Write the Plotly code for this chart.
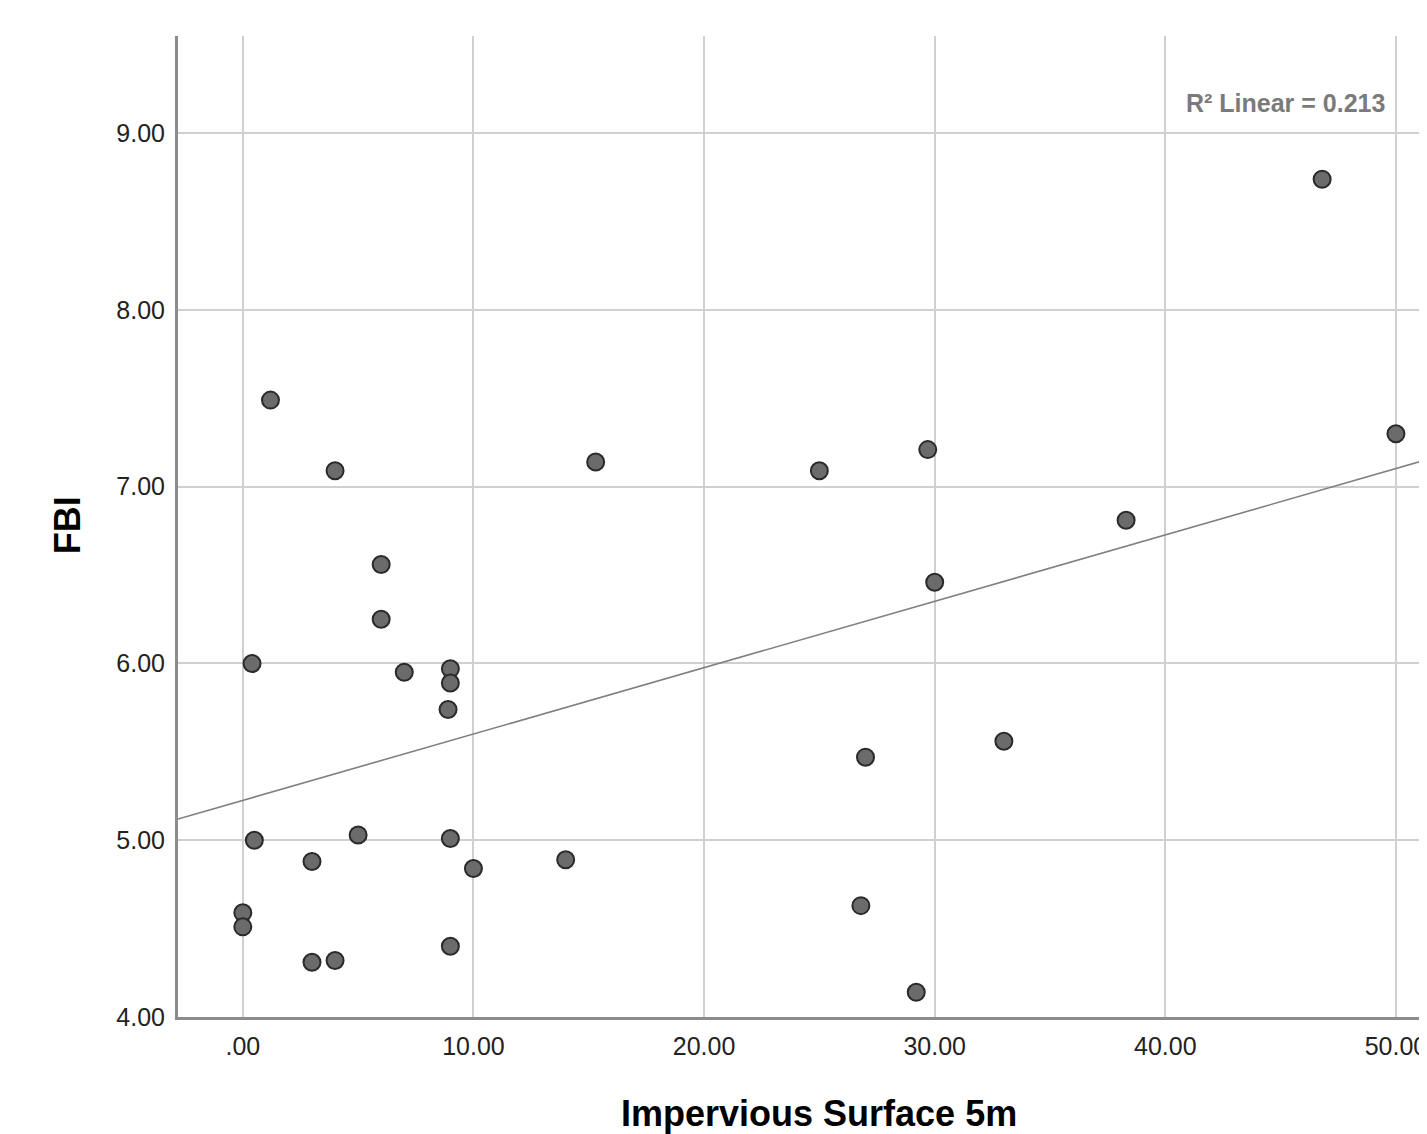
import numpy as np
import plotly.graph_objects as go

# Data
impervious_5m = [1.2, 4.0, 15.3, 25.0, 29.7, 50.0, 46.8, 38.3, 30.0, 6.0,
                 6.0, 0.4, 7.0, 9.0, 9.0, 8.9, 27.0, 33.0, 0.5, 5.0,
                 9.0, 3.0, 10.0, 14.0, 0.0, 0.0, 3.0, 4.0, 9.0, 26.8, 29.2]
fbi = [7.49, 7.09, 7.14, 7.09, 7.21, 7.30, 8.74, 6.81, 6.46, 6.56,
       6.25, 6.00, 5.95, 5.97, 5.89, 5.74, 5.47, 5.56, 5.00, 5.03,
       5.01, 4.88, 4.84, 4.89, 4.59, 4.51, 4.31, 4.32, 4.40, 4.63, 4.14]

x_ticks = [0, 10, 20, 30, 40, 50]
x_tick_labels = [".00", "10.00", "20.00", "30.00", "40.00", "50.00"]
y_ticks = [4, 5, 6, 7, 8, 9]
y_tick_labels = ["4.00", "5.00", "6.00", "7.00", "8.00", "9.00"]
r2_label = "R² Linear = 0.213"

x_range = [-2.81, 51.26]
y_range = [4.0, 9.55]

# Linear fit from the data
slope, intercept = np.polyfit(impervious_5m, fbi, 1)
fit_x = np.array(x_range)
fit_y = intercept + slope * fit_x

FONT = "Liberation Sans, Arial, sans-serif"

fig = go.Figure()
fig.add_trace(go.Scatter(
    x=fit_x, y=fit_y, mode="lines",
    line=dict(color="#808080", width=1.6),
    hoverinfo="skip", showlegend=False, cliponaxis=True,
))
fig.add_trace(go.Scatter(
    x=impervious_5m, y=fbi, mode="markers",
    marker=dict(size=17, color="#6b6b6b", line=dict(color="#2a2a2a", width=2)),
    showlegend=False, cliponaxis=False,
))

fig.update_layout(
    width=1419, height=1126,
    margin=dict(l=170, r=0, t=28, b=117),
    paper_bgcolor="white", plot_bgcolor="white",
    font=dict(family=FONT, color="#222222"),
    xaxis=dict(
        range=x_range, tickvals=x_ticks, ticktext=x_tick_labels,
        showgrid=True, gridcolor="#d0d0d0", gridwidth=2,
        zeroline=False, showline=True, linecolor="#8c8c8c", linewidth=3,
        ticks="", ticklabelstandoff=5, ticklabeloverflow="allow",
        tickfont=dict(size=25, family=FONT, color="#222222"),
    ),
    yaxis=dict(
        range=y_range, tickvals=y_ticks, ticktext=y_tick_labels,
        showgrid=True, gridcolor="#d0d0d0", gridwidth=2,
        zeroline=False, showline=True, linecolor="#8c8c8c", linewidth=3,
        ticks="", ticklabelstandoff=5,
        tickfont=dict(size=25, family=FONT, color="#222222"),
    ),
    annotations=[
        dict(text="<b>Impervious Surface 5m</b>", xref="paper", yref="paper",
             x=0.514, y=-0.0979, xanchor="center", yanchor="middle",
             showarrow=False, font=dict(size=36, family=FONT, color="#000000")),
        dict(text="<b>FBI</b>", xref="paper", yref="paper",
             x=-0.0889, y=0.5015, xanchor="center", yanchor="middle",
             textangle=-90, showarrow=False,
             font=dict(size=36, family=FONT, color="#000000")),
        dict(text="<b>" + r2_label + "</b>", xref="paper", yref="paper",
             x=0.888, y=0.9317, xanchor="center", yanchor="middle",
             showarrow=False, font=dict(size=25, family=FONT, color="#7a7a7a")),
    ],
)

fig.write_html("out.html")
